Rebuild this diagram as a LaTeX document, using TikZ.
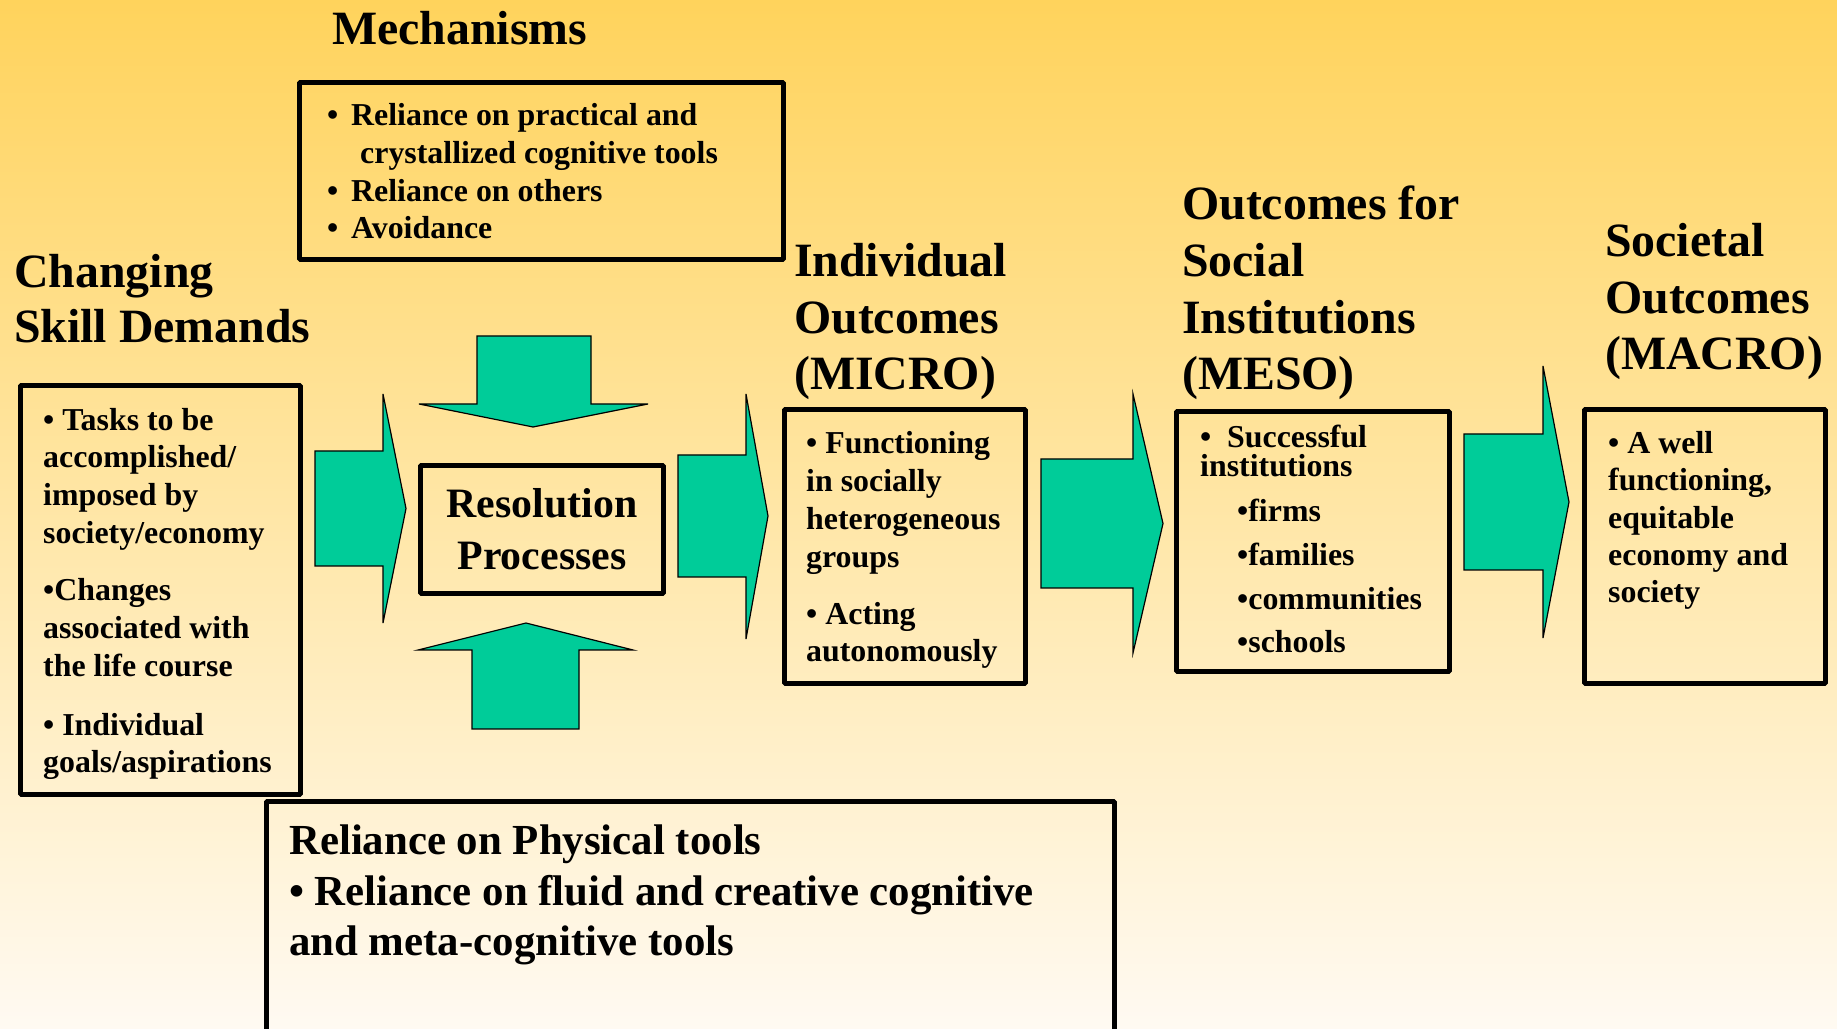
\documentclass[tikz,border=0pt]{standalone}
\usepackage{fontspec}
\setmainfont{Liberation Serif}
\definecolor{arrowgreen}{RGB}{0,204,153}
\definecolor{bgtop}{RGB}{255,211,92}
\definecolor{bgmid}{RGB}{255,233,178}
\definecolor{bgbottom}{RGB}{255,250,242}
\newcommand{\bul}{\makebox[24bp][l]{•}}
\tikzset{
  panel/.style={draw=black, line width=5bp, inner sep=0pt, anchor=north west},
  bodytext/.style={inner sep=0pt, anchor=base west, align=left, font=\fontsize{32}{38}\selectfont\bfseries},
  headtext/.style={inner sep=0pt, anchor=base west, align=left, font=\fontsize{48}{57}\selectfont\bfseries},
  blockarrow/.style={fill=arrowgreen, draw=black, line width=1.2bp, line join=miter},
}
\begin{document}
\begin{tikzpicture}[>=latex,line join=bevel,]
  \useasboundingbox (0bp,0bp) rectangle (1837bp,1029bp);
  \shade [top color=bgtop, middle color=bgmid, bottom color=bgbottom] (0bp,0bp) rectangle (1837bp,1029bp);
%%
  % Edge: demands -> resolution
  \draw [blockarrow] (315bp,578bp) -- (383bp,578bp) -- (383bp,635bp) -- (406bp,520.5bp) -- (383bp,406bp) -- (383bp,463bp) -- (315bp,463bp) -- cycle;
  % Edge: resolution -> micro
  \draw [blockarrow] (678bp,574bp) -- (746bp,574bp) -- (746bp,635bp) -- (768bp,513bp) -- (746bp,390bp) -- (746bp,452bp) -- (678bp,452bp) -- cycle;
  % Edge: mech -> resolution
  \draw [blockarrow] (477bp,693bp) -- (591bp,693bp) -- (591bp,625bp) -- (648bp,625bp) -- (533bp,602bp) -- (419bp,625bp) -- (477bp,625bp) -- cycle;
  % Edge: tools -> resolution
  \draw [blockarrow] (472bp,300bp) -- (579bp,300bp) -- (579bp,379bp) -- (633bp,379bp) -- (526bp,406bp) -- (418bp,379bp) -- (472bp,379bp) -- cycle;
  % Edge: micro -> meso
  \draw [blockarrow] (1041bp,570bp) -- (1133bp,570bp) -- (1133bp,635bp) -- (1163bp,505.5bp) -- (1133bp,376bp) -- (1133bp,441bp) -- (1041bp,441bp) -- cycle;
  % Edge: meso -> macro
  \draw [blockarrow] (1464bp,595bp) -- (1543bp,595bp) -- (1543bp,663bp) -- (1569bp,527bp) -- (1543bp,391bp) -- (1543bp,459bp) -- (1464bp,459bp) -- cycle;
  % Node: mech
  \node (mechtitle) [headtext] at (332bp,984bp) {Mechanisms};
  \node (mech) [panel, minimum width=484bp, minimum height=177bp] at (297bp,949bp) {};
  \node (mechtext) [bodytext] at (327bp,790bp) {\bul Reliance on practical and\\\hspace*{33bp}crystallized cognitive tools\\\bul Reliance on others\\\bul Avoidance};
  % Node: demands
  \node (demandstitle) [headtext, font=\fontsize{48}{56}\selectfont\bfseries] at (14bp,686bp) {Changing\\Skill Demands};
  \node (demands) [panel, minimum width=280bp, minimum height=409bp] at (18bp,646bp) {};
  \node (demandstext) [bodytext] at (43bp,256bp) {• Tasks to be\\accomplished/\\imposed by\\society/economy\\[19bp]•Changes\\associated with\\the life course\\[21bp]• Individual\\goals/aspirations};
  % Node: resolution
  \node (resolution) [panel, minimum width=243bp, minimum height=128bp, align=center, font=\fontsize{42}{52}\selectfont\bfseries] at (418bp,566bp) {Resolution\\Processes};
  % Node: micro
  \node (microtitle) [headtext] at (794bp,639bp) {Individual\\Outcomes\\(MICRO)};
  \node (micro) [panel, minimum width=241bp, minimum height=274bp] at (782bp,622bp) {};
  \node (microtext) [bodytext] at (806bp,367bp) {• Functioning\\in socially\\heterogeneous\\groups\\[19bp]• Acting\\autonomously};
  % Node: meso
  \node (mesotitle) [headtext] at (1182bp,639bp) {Outcomes for\\Social\\Institutions\\(MESO)};
  \node (meso) [panel, minimum width=273bp, minimum height=260bp] at (1174bp,620bp) {};
  \node (mesotext) [bodytext] at (1200bp,376bp) {\makebox[27bp][l]{•}Successful\\[-9bp]institutions\\[7bp]\hspace*{37bp}•firms\\[6bp]\hspace*{37bp}•families\\[6bp]\hspace*{37bp}•communities\\[6bp]\hspace*{37bp}•schools};
  % Node: macro
  \node (macrotitle) [headtext] at (1605bp,659bp) {Societal\\Outcomes\\(MACRO)};
  \node (macro) [panel, minimum width=241bp, minimum height=274bp] at (1582bp,622bp) {};
  \node (macrotext) [bodytext, font=\fontsize{32}{37.5}\selectfont\bfseries] at (1608bp,426bp) {• A well\\functioning,\\equitable\\economy and\\society};
  % Node: tools
  \node (tools) [panel, minimum width=848bp, minimum height=240bp] at (264bp,230bp) {};
  \node (toolstext) [bodytext, font=\fontsize{43}{51}\selectfont\bfseries] at (289bp,73bp) {Reliance on Physical tools\\• Reliance on fluid and creative cognitive\\and meta-cognitive tools};
%
\end{tikzpicture}
\end{document}
